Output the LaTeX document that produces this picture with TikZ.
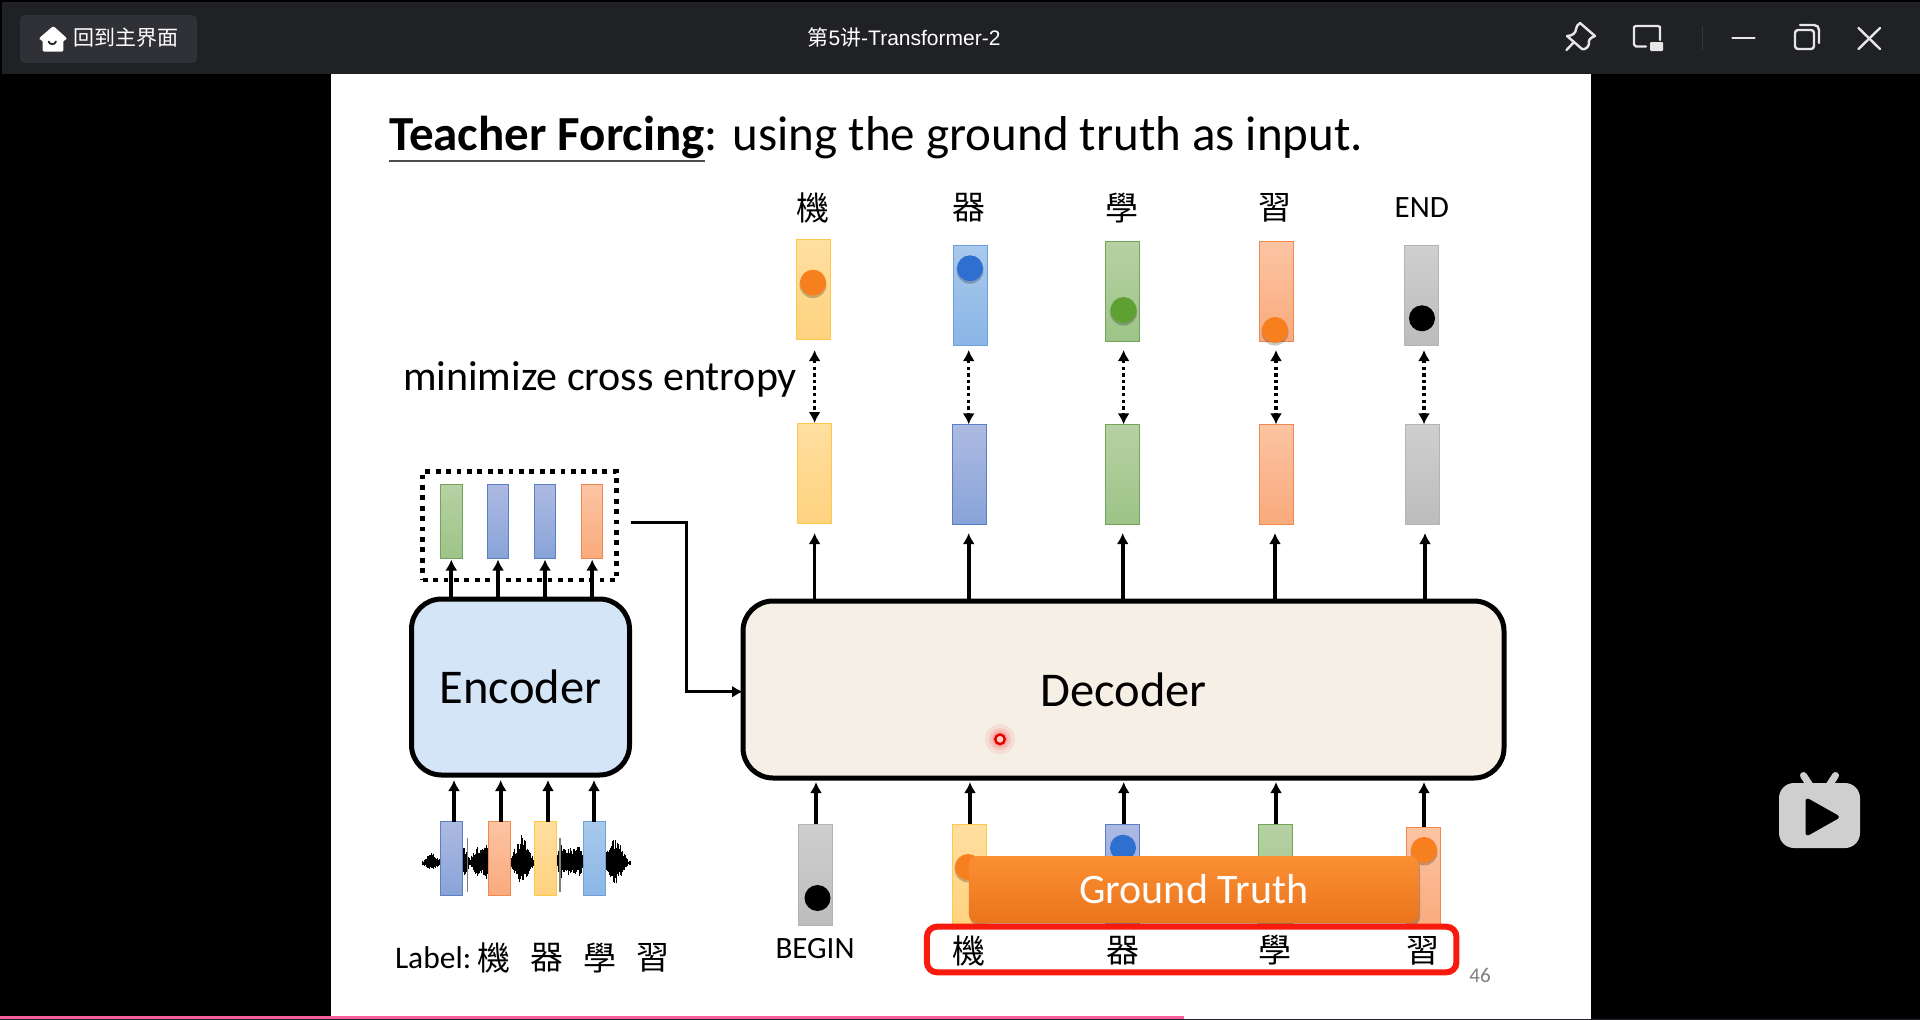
\documentclass[tikz,border=0pt]{standalone}
\usepackage{fontspec}
\setmainfont{Carlito}
\newfontfamily\cjk{Noto Sans CJK TC}
\newfontfamily\cjksc{Noto Sans CJK SC}
\newfontfamily\uifont{Liberation Sans}
\usetikzlibrary{arrows.meta,calc}
\newcommand{\fsz}[1]{\fontsize{#1}{#1}\selectfont}
\definecolor{barbg}{HTML}{202124}
\definecolor{btnbg}{HTML}{303136}
\definecolor{iconc}{HTML}{E6E6E6}
\definecolor{pinkbar}{HTML}{FB5F9B}
\definecolor{ffdFa0}{HTML}{FFDFA0}\definecolor{ffd27f}{HTML}{FFD27F}\definecolor{ffc84a}{HTML}{FFC84A}
\definecolor{a9c9ec}{HTML}{A9C9EC}\definecolor{8ab6e6}{HTML}{8AB6E6}\definecolor{6fa0dc}{HTML}{6FA0DC}
\definecolor{adbae2}{HTML}{ADBAE2}\definecolor{88a3d8}{HTML}{88A3D8}\definecolor{5a7fc4}{HTML}{5A7FC4}
\definecolor{b6d1a3}{HTML}{B6D1A3}\definecolor{9dc488}{HTML}{9DC488}\definecolor{74a35a}{HTML}{74A35A}
\definecolor{fcc4a3}{HTML}{FCC4A3}\definecolor{f9aa7c}{HTML}{F9AA7C}\definecolor{ee8a4e}{HTML}{EE8A4E}
\definecolor{cfcfcf}{HTML}{CFCFCF}\definecolor{bcbcbc}{HTML}{BCBCBC}\definecolor{b4b4b4}{HTML}{B4B4B4}
\definecolor{dorange}{HTML}{F77F1E}\definecolor{dblue}{HTML}{2F6FD0}\definecolor{dgreen}{HTML}{5FA033}
\definecolor{encfill}{HTML}{D3E5F6}\definecolor{decfill}{HTML}{F5EFE6}
\definecolor{gttop}{HTML}{FB8F33}\definecolor{gtbot}{HTML}{EA741C}
\definecolor{redbox}{HTML}{F81A0C}\definecolor{laser}{HTML}{FFD0C0}
\tikzset{
  txt/.style={inner sep=0pt,outer sep=0pt,text=black},
  bar/.style={rectangle,inner sep=0pt,outer sep=0pt,line width=1pt,draw},
  bigbar/.style={bar,minimum width=34pt,minimum height=100pt},
  smallbar/.style={bar,minimum width=21.5pt,minimum height=73.5pt},
  cy/.style={top color=ffdFa0,bottom color=ffd27f,draw=ffc84a},
  cl/.style={top color=a9c9ec,bottom color=8ab6e6,draw=6fa0dc},
  cd/.style={top color=adbae2,bottom color=88a3d8,draw=5a7fc4},
  cg/.style={top color=b6d1a3,bottom color=9dc488,draw=74a35a},
  co/.style={top color=fcc4a3,bottom color=f9aa7c,draw=ee8a4e},
  cz/.style={top color=cfcfcf,bottom color=bcbcbc,draw=b4b4b4},
  arr/.style={line width=3.6pt,-{Latex[length=11pt,width=12pt]},black},
  darr/.style={line width=3.4pt,dash pattern=on 3.4pt off 3.2pt,{Latex[length=11pt,width=12pt]}-{Latex[length=11pt,width=12pt]},black},
  blockn/.style={rectangle,draw=black,line width=5pt,rounded corners=30pt,inner sep=0pt,outer sep=0pt,text=black},
  ico/.style={draw=iconc,line width=2.4pt,line cap=round,line join=round},
  wave/.style={draw=black,line width=0.9pt},
}
\begin{document}
\begin{tikzpicture}[x=1pt,y=-1pt]
\useasboundingbox (0,0) rectangle (1920,1020);
% window
\fill[black] (0,0) rectangle (1920,1020);
\fill[barbg] (1.5,1.5) rectangle (1920,73.5);
\fill[white] (331,74) rectangle (1591,1019);
\fill[barbg] (0,1019) rectangle (1920,1020);
\fill[pinkbar] (0,1016) rectangle (1184,1019);
% top bar
\node[fill=btnbg,rounded corners=5pt,minimum width=177pt,minimum height=48pt,inner sep=0pt] (btn) at (108.5,39) {};
\fill[white,rounded corners=1.5pt] (53.3,26) -- (66.7,38) -- (66.7,40) -- (63.3,40) -- (63.3,51.7) -- (42.7,51.7) -- (42.7,40) -- (39.3,40) -- (39.3,38) -- cycle;
\draw[barbg,line width=1.8pt,line cap=round] (48.6,41.5) .. controls (49.5,45) and (55,45) .. (56,41.5);
\node[txt,text=white] (back) at (126,38) {\cjksc\fsz{21}回到主界面};
\node[txt,text=white] (wtitle) at (904,37) {\uifont\fsz{21}{\cjksc 第}5{\cjksc 讲}-Transformer-2};
\draw[ico] (1566.5,50) -- (1574,42);
\draw[ico] (1580,23) -- (1595,36) .. controls (1590,38) and (1588,40) .. (1589,44) .. controls (1588,48) and (1584,50) .. (1582,49) -- (1567,36) .. controls (1572,36) and (1576,33) .. (1576,29) .. controls (1576,27) and (1578,24) .. (1580,23) -- cycle;
\draw[ico] (1646,46.5) -- (1636,46.5) -- (1634,44.5) -- (1634,27) -- (1636,26) -- (1658,26) -- (1660,27) -- (1660,40);
\fill[iconc,rounded corners=1pt] (1650,42) rectangle (1663,51);
\draw[draw=black!60!white!30!barbg,line width=1.5pt] (1702.7,26) -- (1702.7,50);
\draw[ico] (1732.5,38) -- (1754.5,38);
\draw[ico,rounded corners=3pt] (1795,30) rectangle (1814,49);
\draw[ico] (1800,25) -- (1814,25) .. controls (1817,25) and (1819,27) .. (1819,30) -- (1819,43);
\draw[ico] (1858.5,28) -- (1880,49);
\draw[ico] (1880,28) -- (1858.5,49);
% bilibili icon
\fill[cfcfcf,rounded corners=15pt] (1779,783) rectangle (1860,848);
\draw[cfcfcf,line width=7pt,line cap=round] (1803.5,775.5) -- (1811,787);
\draw[cfcfcf,line width=7pt,line cap=round] (1835.5,775.5) -- (1828,787);
\fill[black,rounded corners=4pt] (1805.5,797) -- (1841,817) -- (1805.5,837) -- cycle;
% title
\node[txt,anchor=base west,font=\fsz{49}\bfseries] (tf) at (389,150) {Teacher Forcing};
\node[txt,anchor=base west,font=\fsz{49}] (trest) at (tf.base east) {: using the ground truth as input.};
\draw[black!70,line width=2pt] ([yshift=-10.7pt]tf.base west) -- ([yshift=-10.7pt]tf.base east);
% top labels
\foreach \n/\x/\t in {ta/813/機,tb/968.7/器,tc/1122/學,td/1274.5/習}{
  \node[txt,font=\cjk\fsz{33}] (\n) at (\x,208) {\t};
}
\node[txt,font=\fsz{31}] (te) at (1421.8,208) {END};
% output bars
\foreach \n/\x/\y/\s in {oa/813/289.3/cy,ob/970.7/295.2/cl,oc/1122/291.7/cg,od/1276/291.7/co,oe/1421/295.3/cz}{
  \node[bigbar,\s] (\n) at (\x,\y) {};
}
\foreach \x/\y/\s in {813/282.7/dorange,970/268.3/dblue,1123.5/310/dgreen,1275/330/dorange}{
  \fill[black,opacity=.22] (\x,\y+2) circle (13.5);
  \fill[\s] (\x,\y) circle (13);
}
\fill[black] (1422,318.3) circle (13);
% minimize
\node[txt,anchor=base west,font=\fsz{42}] (mce) at (403,390) {minimize cross entropy};
% target bars
\foreach \n/\x/\y/\s in {la/814.3/473/cy,lb/969.6/474.4/cd,lc/1122/474.4/cg,ld/1276/474.4/co,le/1422/474.4/cz}{
  \node[bigbar,\s] (\n) at (\x,\y) {};
}
% dotted arrows
\foreach \o/\l/\x in {oa/la/814.6,ob/lb/968.7,oc/lc/1123.6,od/ld/1276,oe/le/1424}{
  \coordinate (dt\o) at (\x,350);
  \draw[darr] (dt\o) -- (\l.north -| dt\o);
}
% encoder, decoder
\node[blockn,fill=encfill,minimum width=218pt,minimum height=176pt,font=\fsz{48.5}] (enc) at (520.5,687) {Encoder};
\node[blockn,fill=decfill,minimum width=761pt,minimum height=177pt,font=\fsz{48.5}] (dec) at (1123.5,689.5) {Decoder};
% decoder up arrows
\foreach \l/\x in {la/814.6,lb/968.7,lc/1122.7,ld/1275,le/1425}{
  \coordinate (u\l) at (\x,533);
  \draw[arr] (dec.north -| u\l) -- (u\l);
}
% encoder outputs
\node[rectangle,draw=black,line width=4.6pt,dash pattern=on 4.8pt off 5.6pt,minimum width=194pt,minimum height=108.3pt,inner sep=0pt] (ebox) at (519.7,525.8) {};
\foreach \n/\x/\s in {ea/451.3/cg,eb/498/cd,ec/545/cd,ed/592.2/co}{
  \node[smallbar,\s] (\n) at (\x,521.7) {};
  \coordinate (e\n) at (\x,559.5);
  \draw[arr,line width=4pt] (enc.north -| e\n) -- (e\n);
}
% connector encoder -> decoder
\coordinate (bend) at (686.7,522.7);
\coordinate (cstart) at (630.7,522.7);
\coordinate (bend2) at (686.7,691.7);
\draw[arr,line width=3.3pt] (cstart) -- (bend) -- (bend2) -- (dec.west |- bend2);
% waveform
\pgfmathsetseed{11}
\foreach \i in {0,...,290}{
  \pgfmathsetmacro\wx{422+\i*0.72}
  \pgfmathsetmacro\amp{2.4+9*max(0,1-abs(\wx-432)/9)+16*max(0,1-abs(\wx-464)/6)+16*max(0,1-abs(\wx-477)/8)+18*max(0,1-abs(\wx-486)/7)+27*max(0,1-abs(\wx-522)/13)+16*max(0,1-abs(\wx-561)/6)+16*max(0,1-abs(\wx-570)/8)+18*max(0,1-abs(\wx-579)/7)+27*max(0,1-abs(\wx-615)/13)}
  \pgfmathsetmacro\wup{\amp*(.5+.5*rnd)}
  \pgfmathsetmacro\wdn{\amp*(.35+.45*rnd)}
  \draw[wave] (\wx,863-\wup) -- (\wx,863+\wdn);
}
\draw[black!50,line width=1.2pt] (467.7,838) -- (467.7,892);
\draw[black!50,line width=1.2pt] (560,838) -- (560,892);
\foreach \n/\x/\s in {ia/451.3/cd,ib/499.7/co,ic/545/cy,id/594/cl}{
  \node[smallbar,\s,minimum width=22pt] (\n) at (\x,858.7) {};
}
\foreach \n/\x in {ia/454,ib/500.7,ic/548,id/594}{
  \coordinate (g\n) at (\x,780);
  \draw[arr,line width=4pt] (\n.north -| g\n) -- (g\n);
}
% label
\node[txt,anchor=base west,font=\fsz{31.5}] (lbl) at (395,968) {Label:};
\foreach \n/\x/\t in {xa/493.6/機,xb/547/器,xc/600/學,xd/653/習}{
  \node[txt,font=\cjk\fsz{33}] (\n) at (\x,958) {\t};
}
% decoder inputs
\node[bigbar,cz,minimum height=101pt] (ga) at (815.5,874.5) {};
\fill[black] (817.5,898) circle (13);
\node[txt,font=\fsz{31}] (begin) at (815,949) {BEGIN};
\node[bigbar,cy] (gb) at (969.6,874) {};
\node[bigbar,cd] (gc) at (1122,874) {};
\node[bigbar,cg] (gd) at (1275.7,874) {};
\node[bigbar,co] (ge) at (1423.3,877) {};
\fill[dblue] (1123,847.7) circle (13);
\fill[black,opacity=.22] (968,869) circle (13.5);
\fill[dorange] (968,867) circle (13);
\fill[black,opacity=.22] (1424,852) circle (13.5);
\fill[dorange] (1424,850) circle (13);
\foreach \n/\x in {ga/816,gb/970,gc/1123.7,gd/1276,ge/1424}{
  \coordinate (h\n) at (\x,782);
  \draw[arr] (\n.north -| h\n) -- (h\n);
}
% ground truth
\fill[black,opacity=.25,rounded corners=9pt] (970,859) rectangle (1420,926);
\node[rectangle,rounded corners=9pt,top color=gttop,bottom color=gtbot,minimum width=450pt,minimum height=67pt,inner sep=0pt,text=white,font=\fsz{42}] (gt) at (1193.8,889.5) {Ground Truth};
% red box
\node[rectangle,draw=redbox,line width=6pt,rounded corners=10pt,minimum width=529.5pt,minimum height=45.6pt,inner sep=0pt] (rb) at (1191.7,949.5) {};
\foreach \n/\x/\t in {ya/969/機,yb/1122.5/器,yc/1274.7/學,yd/1422.5/習}{
  \node[txt,font=\cjk\fsz{33}] (\n) at (\x,950.5) {\t};
}
\node[txt,text=black!50,font=\fsz{21}] (pg) at (1480,975.7) {46};
% laser pointer
\fill[red,opacity=.07] (1000,739.3) circle (15);
\fill[red,opacity=.10] (1000,739.3) circle (11);
\fill[red,opacity=.15] (1000,739.3) circle (8);
\draw[draw=red!90!black,fill=laser,line width=2.4pt] (1000,739.3) circle (4.8);
\end{tikzpicture}
\end{document}
